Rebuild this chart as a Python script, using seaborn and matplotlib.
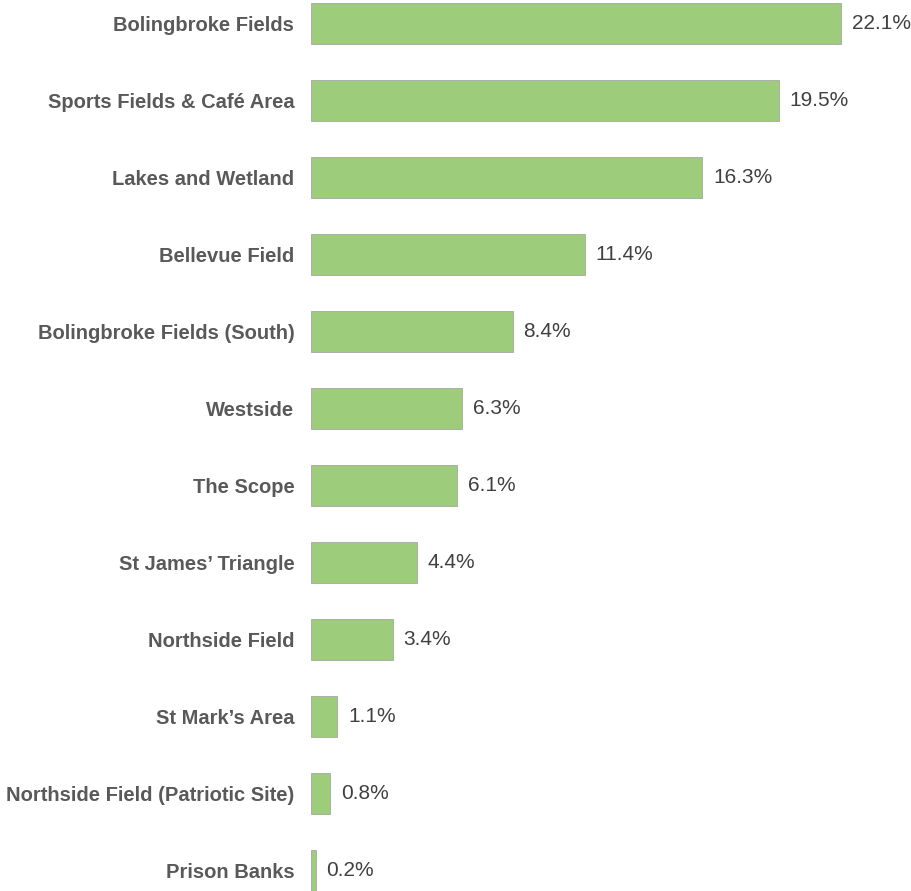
import pandas as pd
import seaborn as sns
import matplotlib.pyplot as plt

# data
areas = ["Bolingbroke Fields", "Sports Fields & Café Area", "Lakes and Wetland",
         "Bellevue Field", "Bolingbroke Fields (South)", "Westside", "The Scope",
         "St James\u2019 Triangle", "Northside Field", "St Mark\u2019s Area",
         "Northside Field (Patriotic Site)", "Prison Banks"]
shares = [22.1, 19.5, 16.3, 11.4, 8.4, 6.3, 6.1, 4.4, 3.4, 1.1, 0.8, 0.2]

df = pd.DataFrame({"area": areas, "share": shares})

sns.set_style("white")
plt.rcParams["font.family"] = ["Liberation Sans", "DejaVu Sans"]

fig = plt.figure(figsize=(9.11, 8.91), dpi=100)
ax = fig.add_axes([311 / 911, 0, 600 / 911, 1])

sns.barplot(data=df, x="share", y="area", orient="h", color="#9dcd7b",
            saturation=1, width=0.53, edgecolor="#a6a6a6", linewidth=0.6, ax=ax)

for i, v in enumerate(shares):
    ax.text(v + 0.45, i, f"{v:.1f}%", va="center", ha="left",
            fontsize=15, color="#404040")

ax.set_xlim(0, 25)
ax.set_ylim(11.27, -0.3)
ax.set_xlabel("")
ax.set_ylabel("")
ax.set_xticks([])
ax.tick_params(axis="y", length=0, pad=12)
for lbl in ax.get_yticklabels():
    lbl.set_fontweight("bold")
    lbl.set_fontsize(14.5)
    lbl.set_color("#595959")
sns.despine(ax=ax, left=True, bottom=True)

fig.savefig("out.png", dpi=100)
